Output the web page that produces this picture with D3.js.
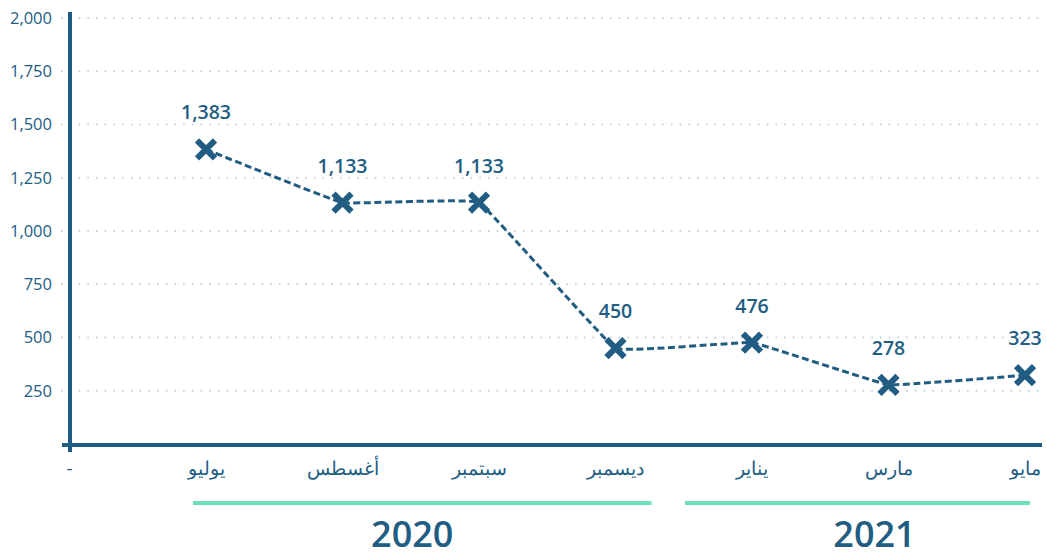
<!DOCTYPE html>
<html>
<head>
<meta charset="utf-8">
<script src="https://cdn.jsdelivr.net/npm/d3@7"></script>
<style>
  body { margin: 0; background: #fff; }
  svg text { font-family: "Open Sans", "Noto Sans", sans-serif; }
</style>
</head>
<body>
<svg id="chart" width="1047" height="557"></svg>
<script>
// month categories (first slot is the empty "-" origin)
const months = ['-', 'يوليو', 'أغسطس', 'سبتمبر', 'ديسمبر', 'يناير', 'مارس', 'مايو'];
const values = [null, 1383, 1133, 1133, 450, 476, 278, 323];
const yTicks = [250, 500, 750, 1000, 1250, 1500, 1750, 2000];
const years = [
    { label: '2020', from: 'يوليو', to: 'ديسمبر' },
    { label: '2021', from: 'يناير', to: 'مايو' }
];

const navy = '#215d83';
const teal = '#6ce0b8';

const svg = d3.select('#chart');

const x = d3.scalePoint()
    .domain(months)
    .range([69.5, 1025]);

const y = d3.scaleLinear()
    .domain([0, 2000])
    .range([444, 18]);

// === dotted grid lines ===
svg.append('g')
    .selectAll('line')
    .data(yTicks)
    .enter()
    .append('line')
    .attr('x1', 62)
    .attr('x2', 1042)
    .attr('y1', d => y(d))
    .attr('y2', d => y(d))
    .attr('stroke', '#bfcfda')
    .attr('stroke-width', 2)
    .attr('stroke-dasharray', '0.01,8.7')
    .attr('stroke-linecap', 'round');

// === y axis ===
const yAxis = svg.append('g')
    .attr('transform', 'translate(55,0)')
    .call(d3.axisLeft(y).tickValues(yTicks).tickSize(0).tickFormat(d3.format(',')));
yAxis.select('.domain').remove();
yAxis.selectAll('text')
    .attr('fill', navy)
    .attr('font-size', 16.5)
    .attr('font-family', '"Open Sans", sans-serif');

svg.append('line')
    .attr('x1', 70).attr('x2', 70)
    .attr('y1', 12).attr('y2', 452)
    .attr('stroke', navy)
    .attr('stroke-width', 4);

svg.append('line')
    .attr('x1', 62).attr('x2', 1042)
    .attr('y1', 445).attr('y2', 445)
    .attr('stroke', navy)
    .attr('stroke-width', 4);

// === x axis labels ===
svg.append('g')
    .selectAll('text')
    .data(months)
    .enter()
    .append('text')
    .attr('x', d => x(d))
    .attr('y', 475)
    .attr('text-anchor', 'middle')
    .attr('fill', navy)
    .attr('font-size', 19)
    .text(d => d);

// === year bands ===
const bandPad = [[-13, 36], [-67, 5]];
const labelShift = [-10, 17];
const yearG = svg.append('g');
years.forEach((d, i) => {
    const x0 = x(d.from) + bandPad[i][0];
    const x1 = x(d.to) + bandPad[i][1];
    yearG.append('line')
        .attr('x1', x0).attr('x2', x1)
        .attr('y1', 503).attr('y2', 503)
        .attr('stroke', teal)
        .attr('stroke-width', 4);
    yearG.append('text')
        .attr('x', (x0 + x1) / 2 + labelShift[i])
        .attr('y', 547)
        .attr('text-anchor', 'middle')
        .attr('fill', navy)
        .attr('font-size', 36)
        .attr('font-weight', 600)
        .text(d.label);
});

// === line ===
const pts = months.map((m, i) => ({ m, v: values[i] })).filter(d => d.v != null);

const line = d3.line()
    .x(d => x(d.m))
    .y(d => y(d.v))
    .curve(d3.curveCardinal.tension(0.8));

svg.append('path')
    .datum(pts)
    .attr('d', line)
    .attr('fill', 'none')
    .attr('stroke', navy)
    .attr('stroke-width', 3)
    .attr('stroke-dasharray', '7,3.5');

// === markers ===
svg.append('g')
    .selectAll('path')
    .data(pts)
    .enter()
    .append('path')
    .attr('transform', d => `translate(${x(d.m)},${y(d.v)})`)
    .attr('d', 'M-9,-9L9,9M9,-9L-9,9')
    .attr('stroke', navy)
    .attr('stroke-width', 6);

// === value labels ===
svg.append('g')
    .selectAll('text')
    .data(pts)
    .enter()
    .append('text')
    .attr('x', d => x(d.m))
    .attr('y', d => y(d.v) - 30)
    .attr('text-anchor', 'middle')
    .attr('fill', navy)
    .attr('font-size', 19.5)
    .attr('font-weight', 600)
    .text(d => d3.format(',')(d.v));
</script>
</body>
</html>
